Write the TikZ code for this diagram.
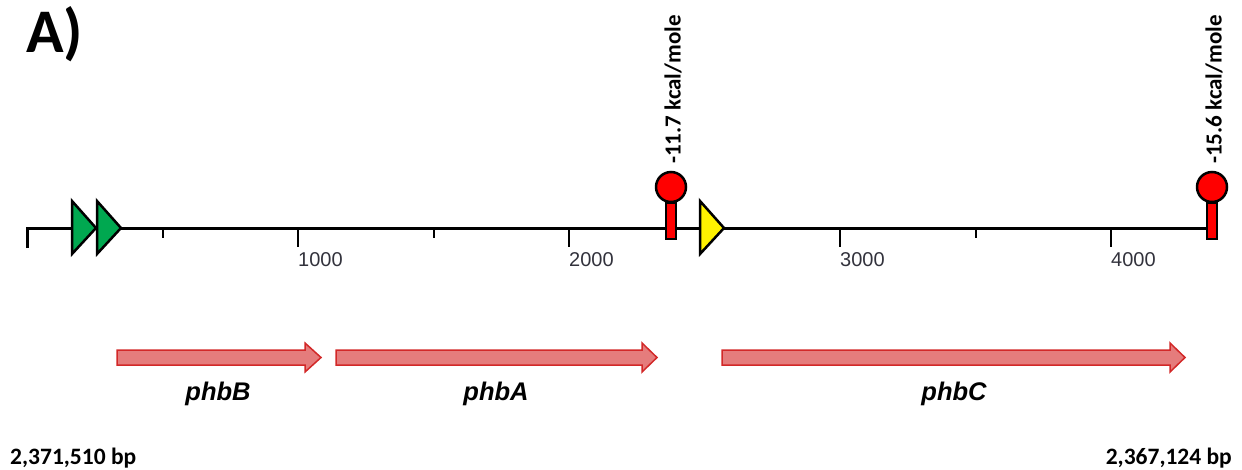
\documentclass[tikz,border=0pt]{standalone}
\usepackage{fontspec}
\setmainfont{Carlito}
\newfontfamily\arialf{Liberation Sans}
\definecolor{promgreen}{RGB}{0,168,80}
\definecolor{termred}{RGB}{255,0,0}
\definecolor{genefill}{RGB}{229,124,124}
\definecolor{genedraw}{RGB}{210,40,40}
\definecolor{ticklab}{RGB}{50,50,60}
\begin{document}
\begin{tikzpicture}[x=1pt,y=-1pt]
\useasboundingbox (0,0) rectangle (1242,469);
\tikzset{
  axisline/.style={line width=3pt},
  tickmark/.style={line width=2pt},
  ticklabel/.style={font=\arialf\fontsize{20}{20}\selectfont, text=ticklab, inner sep=0pt, anchor=base west},
  promoter/.style={draw=black, line width=2.5pt, line join=miter},
  termstem/.style={draw=black, fill=termred, line width=2.5pt},
  termhead/.style={circle, draw=black, fill=termred, line width=2.5pt, minimum size=30pt, inner sep=0pt},
  energy/.style={font=\bfseries\fontsize{23}{23}\selectfont, rotate=90, anchor=west, inner sep=0pt},
  genearrow/.style={draw=genedraw, fill=genefill, line width=1.5pt, line join=miter},
  genelabel/.style={font=\arialf\bfseries\itshape\fontsize{25.5}{25.5}\selectfont, inner sep=0pt, anchor=base},
  coord/.style={font=\bfseries\fontsize{23.5}{23.5}\selectfont, inner sep=0pt, anchor=base}
}
% panel label
\node[font=\bfseries\fontsize{62}{62}\selectfont, inner sep=0pt, anchor=base west] (panel) at (26,52) {A)};

% axis
\coordinate (axstart) at (27,228);
\coordinate (axend) at (1206,228);
\draw[axisline] (27,248) -- (axstart) -- (axend);
% ticks
\foreach \x in {162.5,433.5,704.5,975.5} {
  \draw[tickmark] (\x,228) -- (\x,238);
}
\foreach \x/\lab in {298/1000,569/2000,840/3000,1111/4000} {
  \draw[tickmark] (\x,228) -- (\x,247);
  \node[ticklabel] (t\lab) at (\x,266) {\lab};
}

% promoters
\draw[promoter, fill=promgreen] (72,201) -- (96,228) -- (72,254) -- cycle;
\draw[promoter, fill=promgreen] (97,201) -- (121,228) -- (97,254) -- cycle;
\draw[promoter, fill=yellow] (700,201) -- (724,228) -- (700,254) -- cycle;

% terminators
\draw[termstem] (666,203) rectangle (676,239);
\node[termhead] (term1) at (671,187) {};
\draw[termstem] (1207,203) rectangle (1217,239);
\node[termhead] (term2) at (1212,187) {};
\node[energy] (e1) at (673,164) {-11.7 kcal/mole};
\node[energy] (e2) at (1214,164) {-15.6 kcal/mole};

% genes
\newcommand\genearr[3]{%
  \draw[genearrow] (#1,350) -- (#2,350) -- (#2,343) -- (#3,357.5) -- (#2,372) -- (#2,365) -- (#1,365) -- cycle;}
\genearr{117}{305}{321}
\genearr{336}{642}{657}
\genearr{722}{1170}{1185}
\node[genelabel] (phbB) at (218,400) {phbB};
\node[genelabel] (phbA) at (496,400) {phbA};
\node[genelabel] (phbC) at (954,400) {phbC};

% coordinates
\node[coord, anchor=base west] (left) at (10,464) {2,371,510 bp};
\node[coord, anchor=base east] (right) at (1232,464) {2,367,124 bp};
\end{tikzpicture}
\end{document}
